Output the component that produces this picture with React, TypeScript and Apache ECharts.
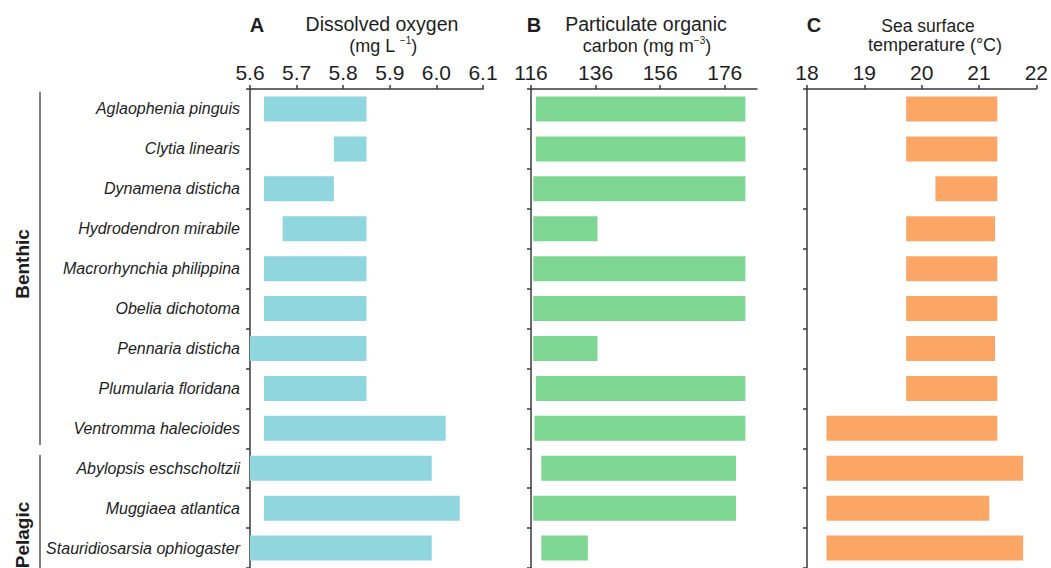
import React, { useEffect, useRef } from "react";
import * as echarts from "echarts";

// Species, listed top to bottom
const species = [
  "Aglaophenia pinguis",
  "Clytia linearis",
  "Dynamena disticha",
  "Hydrodendron mirabile",
  "Macrorhynchia philippina",
  "Obelia dichotoma",
  "Pennaria disticha",
  "Plumularia floridana",
  "Ventromma halecioides",
  "Abylopsis eschscholtzii",
  "Muggiaea atlantica",
  "Stauridiosarsia ophiogaster",
];

// Dissolved oxygen range (mg L-1)
const doLow = [5.63, 5.78, 5.63, 5.67, 5.63, 5.63, 5.6, 5.63, 5.63, 5.6, 5.63, 5.6];
const doHigh = [5.85, 5.85, 5.78, 5.85, 5.85, 5.85, 5.85, 5.85, 6.02, 5.99, 6.05, 5.99];

// Particulate organic carbon range (mg m-3)
const pocLow = [117.5, 117.5, 116.7, 116.7, 116.7, 116.7, 116.7, 117.5, 117.1, 119.2, 116.7, 119.2];
const pocHigh = [182.4, 182.4, 182.4, 136.6, 182.4, 182.4, 136.6, 182.4, 182.4, 179.5, 179.5, 133.6];

// Sea surface temperature range (°C)
const sstLow = [19.73, 19.73, 20.24, 19.73, 19.73, 19.73, 19.73, 19.73, 18.34, 18.34, 18.34, 18.34];
const sstHigh = [21.32, 21.32, 21.32, 21.28, 21.32, 21.32, 21.28, 21.32, 21.32, 21.77, 21.18, 21.77];

// Tick values for each top axis
const doTicks = [5.6, 5.7, 5.8, 5.9, 6.0, 6.1];
const pocTicks = [116, 136, 156, 176];
const sstTicks = [18, 19, 20, 21, 22];

const FONT = "'Liberation Sans', Arial, Helvetica, sans-serif";
const AXIS_COLOR = "#3a3a3a";
const TEXT_COLOR = "#1e1e1e";

const panels = [
  { low: doLow, high: doHigh, ticks: doTicks, min: 5.6, max: 6.1, color: "#8fd6de", left: 250, width: 233, digits: 1 },
  { low: pocLow, high: pocHigh, ticks: pocTicks, min: 116, max: 186, color: "#7dd692", left: 531, width: 226, digits: 0 },
  { low: sstLow, high: sstHigh, ticks: sstTicks, min: 18, max: 22, color: "#fca666", left: 807, width: 230, digits: 0 },
];

const GRID_TOP = 89;
const GRID_HEIGHT = 483;

function titleText(x: number, y: number, text: string, size: number, extra: any = {}) {
  return {
    type: "text",
    x,
    y,
    silent: true,
    style: {
      text,
      fontFamily: FONT,
      fontSize: size,
      fill: TEXT_COLOR,
      align: "center",
      verticalAlign: "middle",
      ...extra,
    },
  };
}

export default function App() {
  const ref = useRef<HTMLDivElement>(null);

  useEffect(() => {
    if (!ref.current) return;
    const chart = echarts.init(ref.current, null, { renderer: "svg" });

    const grid = panels.map((p) => ({
      left: p.left,
      width: p.width,
      top: GRID_TOP,
      height: GRID_HEIGHT,
      containLabel: false,
    }));

    const xAxis = panels.map((p, i) => ({
      type: "value",
      gridIndex: i,
      position: "top",
      min: p.min,
      max: p.max,
      axisLine: { show: true, onZero: false, lineStyle: { color: AXIS_COLOR, width: 1.5 } },
      axisTick: {
        show: true,
        length: 4,
        customValues: p.ticks,
        lineStyle: { color: AXIS_COLOR, width: 1.5 },
      },
      axisLabel: {
        customValues: p.ticks,
        fontFamily: FONT,
        fontSize: 21,
        color: TEXT_COLOR,
        margin: 6,
        formatter: (v: number) => v.toFixed(p.digits),
      },
      splitLine: { show: false },
    }));

    const yAxis = panels.map((_p, i) => ({
      type: "category",
      gridIndex: i,
      data: species,
      inverse: true,
      axisLine: { show: true, onZero: false, lineStyle: { color: AXIS_COLOR, width: 1.5 } },
      axisTick: { show: true, length: 4, lineStyle: { color: AXIS_COLOR, width: 1.5 } },
      axisLabel: {
        show: i === 0,
        fontFamily: FONT,
        fontSize: 16,
        fontStyle: "italic",
        color: TEXT_COLOR,
        margin: 10,
      },
      splitLine: { show: false },
    }));

    const series: any[] = [];
    panels.forEach((p, i) => {
      series.push({
        type: "bar",
        xAxisIndex: i,
        yAxisIndex: i,
        stack: "range" + i,
        barWidth: 25,
        silent: true,
        itemStyle: { color: "rgba(0,0,0,0)" },
        data: p.low,
      });
      series.push({
        type: "bar",
        xAxisIndex: i,
        yAxisIndex: i,
        stack: "range" + i,
        barWidth: 25,
        silent: true,
        itemStyle: { color: p.color },
        data: p.high.map((h, k) => h - p.low[k]),
      });
    });

    const sup = { fontSize: 10, fontFamily: FONT, fill: TEXT_COLOR, verticalAlign: "top", lineHeight: 12 };

    const graphic: any[] = [
      // Panel letters
      titleText(257, 25, "A", 20, { fontWeight: "bold" }),
      titleText(534, 25, "B", 20, { fontWeight: "bold" }),
      titleText(814, 25, "C", 20, { fontWeight: "bold" }),
      // Panel A title
      titleText(382, 24, "Dissolved oxygen", 19.5),
      titleText(383, 46, "(mg L {s|\u22121})", 18, { lineHeight: 22, rich: { s: sup } }),
      // Panel B title
      titleText(646, 24, "Particulate organic", 19.5),
      titleText(647, 46, "carbon (mg m{s|\u22123})", 18, { lineHeight: 22, rich: { s: sup } }),
      // Panel C title
      titleText(928, 26, "Sea surface", 17.5),
      titleText(935, 45, "temperature (\u00b0C)", 18),
      // Habitat group brackets
      {
        type: "line",
        silent: true,
        shape: { x1: 40, y1: 92, x2: 40, y2: 445 },
        style: { stroke: "#555", lineWidth: 1.5 },
      },
      {
        type: "line",
        silent: true,
        shape: { x1: 40, y1: 455, x2: 40, y2: 575 },
        style: { stroke: "#555", lineWidth: 1.5 },
      },
      {
        type: "text",
        x: 22,
        y: 264,
        rotation: Math.PI / 2,
        silent: true,
        style: {
          text: "Benthic",
          fontFamily: FONT,
          fontSize: 19,
          fontWeight: "bold",
          fill: TEXT_COLOR,
          align: "center",
          verticalAlign: "middle",
        },
      },
      {
        type: "text",
        x: 22,
        y: 535,
        rotation: Math.PI / 2,
        silent: true,
        style: {
          text: "Pelagic",
          fontFamily: FONT,
          fontSize: 19,
          fontWeight: "bold",
          fill: TEXT_COLOR,
          align: "center",
          verticalAlign: "middle",
        },
      },
    ];

    chart.setOption({
      animation: false,
      backgroundColor: "#ffffff",
      grid,
      xAxis,
      yAxis,
      series,
      graphic,
    });

    return () => {
      chart.dispose();
    };
  }, []);

  return (
    <div
      ref={ref}
      style={{ position: "fixed", left: 0, top: 0, width: 1051, height: 568, background: "#fff" }}
    />
  );
}
